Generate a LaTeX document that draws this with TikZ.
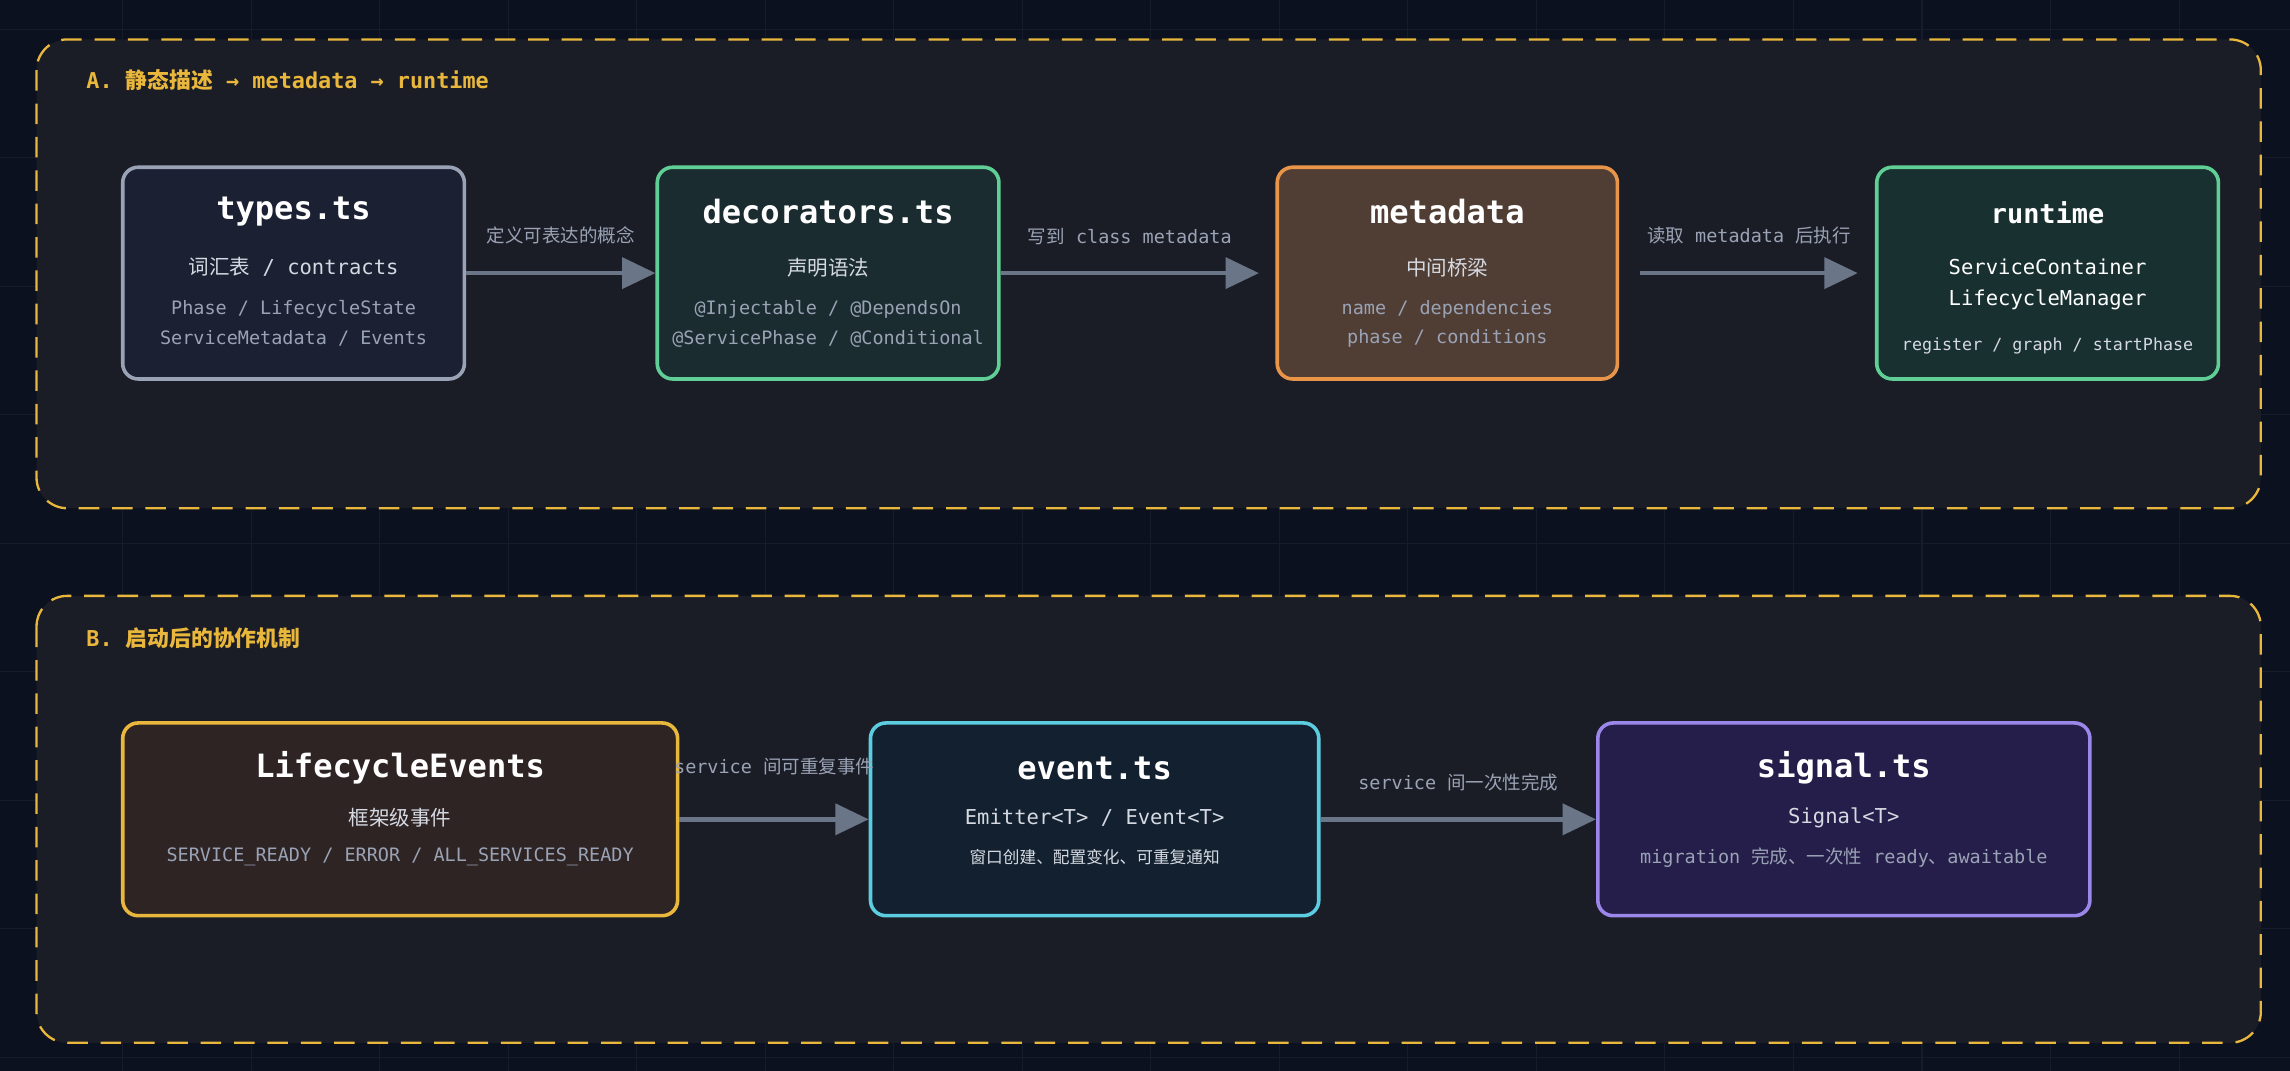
\documentclass[tikz,border=0pt]{standalone}
\usepackage{fontspec}
\setmainfont{DejaVu Sans Mono}
\newfontfamily\cjk{Noto Sans CJK SC}
\newcommand{\zh}[1]{{\cjk #1}}
\usetikzlibrary{arrows.meta,positioning}
\definecolor{bgc}{HTML}{0C1120}
\definecolor{gridc}{HTML}{161C2B}
\definecolor{panelc}{HTML}{1B1D26}
\definecolor{goldc}{HTML}{E9B73C}
\definecolor{arrowc}{HTML}{6B7588}
\definecolor{subc}{HTML}{D5D9E2}
\definecolor{detc}{HTML}{9AA3B5}
\definecolor{typesfill}{HTML}{1B2032}
\definecolor{greenc}{HTML}{5FCF96}
\definecolor{decorfill}{HTML}{1A2C30}
\definecolor{orangec}{HTML}{E8954A}
\definecolor{metafill}{HTML}{503E35}
\definecolor{runfill}{HTML}{183030}
\definecolor{evfill}{HTML}{2F2424}
\definecolor{cyanc}{HTML}{5CCDE0}
\definecolor{etsfill}{HTML}{12202F}
\definecolor{purplec}{HTML}{9B87EA}
\definecolor{sigfill}{HTML}{251D4A}
\tikzset{
  panel/.style={draw=goldc, fill=panelc, dash pattern=on 8pt off 5pt, line width=0.9pt, rounded corners=12pt},
  box/.style 2 args={draw=#1, fill=#2, line width=1.4pt, rounded corners=6pt, inner sep=0pt},
  flow/.style={-{Triangle[length=13pt,width=12pt]}, draw=arrowc, line width=1.7pt},
  lbl/.style={text=detc, font=\fontsize{7.2}{9}\selectfont},
  ttl/.style={text=goldc, font=\fontsize{8.5}{10}\selectfont\bfseries, anchor=west},
  t1/.style={text=white, font=\fontsize{12.5}{15}\selectfont\bfseries, inner sep=0pt},
  t2/.style={text=subc, font=\fontsize{8}{10}\selectfont, inner sep=0pt},
  t3/.style={text=detc, font=\fontsize{7.2}{9}\selectfont, inner sep=0pt},
}
\begin{document}
\begin{tikzpicture}[x=0.02cm, y=-0.02cm]
  \useasboundingbox (0,0) rectangle (1568,733);
  \fill[bgc] (0,0) rectangle (1568,733);
  % faint grid
  \foreach \gx in {84,172,...,1568} \draw[gridc, line width=0.4pt] (\gx,0) -- (\gx,733);
  \foreach \gy in {20,108,...,733} \draw[gridc, line width=0.4pt] (0,\gy) -- (1568,\gy);

  % panels
  \draw[panel] (25,27) rectangle (1548,348);
  \draw[panel] (25,408) rectangle (1548,714);
  \node[ttl] (titleA) at (53,55) {A. \zh{静态描述} → metadata → runtime};
  \node[ttl] (titleB) at (53,437) {B. \zh{启动后的协作机制}};

  % row A
  \node[box={detc}{typesfill}, minimum width=4.68cm, minimum height=2.9cm] (types) at (201,187) {};
  \node[t1] (typesT) at (201,145) {types.ts};
  \node[t2] (typesS) at (201,183) {\zh{词汇表} / contracts};
  \node[t3] (typesD1) at (201,212) {Phase / LifecycleState};
  \node[t3] (typesD2) at (201,232) {ServiceMetadata / Events};

  \node[box={greenc}{decorfill}, minimum width=4.68cm, minimum height=2.9cm] (decor) at (567,187) {};
  \node[t1] (decorT) at (567,145) {decorators.ts};
  \node[t2] (decorS) at (567,183) {\zh{声明语法}};
  \node[t3] (decorD1) at (567,212) {@Injectable / @DependsOn};
  \node[t3] (decorD2) at (567,232) {@ServicePhase / @Conditional};

  \node[box={orangec}{metafill}, minimum width=4.66cm, minimum height=2.9cm] (meta) at (991,187) {};
  \node[t1] (metaT) at (991,145) {metadata};
  \node[t2] (metaS) at (991,183) {\zh{中间桥梁}};
  \node[t3] (metaD1) at (991,212) {name / dependencies};
  \node[t3] (metaD2) at (991,232) {phase / conditions};

  \node[box={greenc}{runfill}, minimum width=4.68cm, minimum height=2.9cm] (runtime) at (1402,187) {};
  \node[t1, font=\fontsize{10.5}{13}\selectfont\bfseries] (runT) at (1402,146) {runtime};
  \node[t2, text=white] (runS1) at (1402,183) {ServiceContainer};
  \node[t2, text=white] (runS2) at (1402,205) {LifecycleManager};
  \node[t3, text=subc, font=\fontsize{6.5}{8}\selectfont] (runD) at (1402,237) {register / graph / startPhase};

  \coordinate (metaIn) at (862,187);
  \coordinate (metaOut) at (1123,187);
  \coordinate (runIn) at (1272,187);
  \draw[flow] (types) -- node[lbl, above=7pt] {\zh{定义可表达的概念}} (decor);
  \draw[flow] (decor.east) -- node[lbl, above=7pt] {\zh{写到} class metadata} (metaIn);
  \draw[flow] (metaOut) -- node[lbl, above=7pt] {\zh{读取} metadata \zh{后执行}} (runIn);

  % row B
  \node[box={goldc}{evfill}, minimum width=7.6cm, minimum height=2.64cm] (events) at (274,561) {};
  \node[t1] (eventsT) at (274,526) {LifecycleEvents};
  \node[t2] (eventsS) at (274,560) {\zh{框架级事件}};
  \node[t3] (eventsD) at (274,587) {SERVICE\_READY / ERROR / ALL\_SERVICES\_READY};

  \node[box={cyanc}{etsfill}, minimum width=6.14cm, minimum height=2.64cm] (eventts) at (749.5,561) {};
  \node[t1] (etsT) at (749.5,526) {event.ts};
  \node[t2] (etsS) at (749.5,560) {Emitter<T> / Event<T>};
  \node[t3, text=subc, font=\fontsize{6.5}{8}\selectfont] (etsD) at (749.5,587) {\zh{窗口创建、配置变化、可重复通知}};

  \node[box={purplec}{sigfill}, minimum width=6.74cm, minimum height=2.64cm] (signal) at (1262.5,561) {};
  \node[t1] (sigT) at (1262.5,526) {signal.ts};
  \node[t2] (sigS) at (1262.5,560) {Signal<T>};
  \node[t3] (sigD) at (1262.5,587) {migration \zh{完成、一次性} ready\zh{、}awaitable};

  \draw[flow] (events) -- node[lbl, above=13pt] {service \zh{间可重复事件}} (eventts);
  \draw[flow] (eventts) -- node[lbl, above=7pt] {service \zh{间一次性完成}} (signal);
\end{tikzpicture}
\end{document}
